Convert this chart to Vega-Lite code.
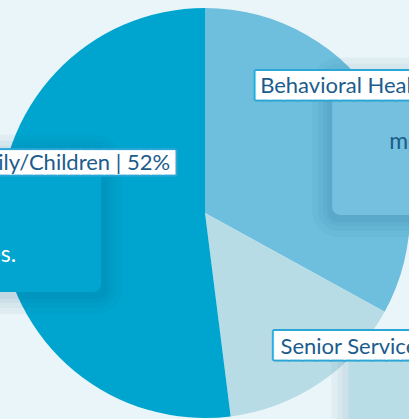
{
  "$schema": "https://vega.github.io/schema/vega-lite/v6.json",
  "width": 410,
  "height": 412,
  "autosize": {"type": "none"},
  "padding": {"left": 0, "top": 7, "right": 0, "bottom": 0},
  "background": "#E9F5F8",
  "view": {"stroke": null},
  "data": {
    "values": [
      {"cat": "Behavioral Health", "value": 33, "order": 1, "label": "Behavioral Health | 33%"},
      {"cat": "Senior Services", "value": 15, "order": 2, "label": "Senior Services | 15%"},
      {"cat": "Family/Children", "value": 52, "order": 3, "label": "Family/Children | 52%"}
    ]
  },
  "encoding": {
    "theta": {"field": "value", "type": "quantitative", "stack": true},
    "order": {"field": "order", "type": "quantitative"}
  },
  "layer": [
    {
      "mark": {"type": "arc"},
      "encoding": {
        "color": {
          "field": "cat", "type": "nominal", "legend": null,
          "scale": {"domain": ["Behavioral Health", "Senior Services", "Family/Children"], "range": ["#6EBEDD", "#B8DCE6", "#00A5CF"]}
        }
      }
    },
    {
      "mark": {"type": "text", "font": "DejaVu Sans Mono", "fontSize": 107, "align": "left", "baseline": "alphabetic", "radius": 236, "dx": -69, "dy": 91, "fill": "#06527E", "stroke": "#06527E", "strokeWidth": 52, "strokeJoin": "round", "opacity": 0.04},
      "encoding": {"text": {"condition": {"test": "datum.cat == 'Behavioral Health'", "value": "██"}, "value": ""}}
    },
    {
      "mark": {"type": "text", "font": "DejaVu Sans Mono", "fontSize": 107, "align": "left", "baseline": "alphabetic", "radius": 236, "dx": -69, "dy": 91, "fill": "#06527E", "stroke": "#06527E", "strokeWidth": 40, "strokeJoin": "round", "opacity": 0.04},
      "encoding": {"text": {"condition": {"test": "datum.cat == 'Behavioral Health'", "value": "██"}, "value": ""}}
    },
    {
      "mark": {"type": "text", "font": "DejaVu Sans Mono", "fontSize": 107, "align": "left", "baseline": "alphabetic", "radius": 236, "dx": -69, "dy": 91, "fill": "#06527E", "stroke": "#06527E", "strokeWidth": 30, "strokeJoin": "round", "opacity": 0.04},
      "encoding": {"text": {"condition": {"test": "datum.cat == 'Behavioral Health'", "value": "██"}, "value": ""}}
    },
    {
      "mark": {"type": "text", "font": "DejaVu Sans Mono", "fontSize": 107, "align": "left", "baseline": "alphabetic", "radius": 236, "dx": -69, "dy": 91, "fill": "#06527E", "stroke": "#06527E", "strokeWidth": 22, "strokeJoin": "round", "opacity": 0.05},
      "encoding": {"text": {"condition": {"test": "datum.cat == 'Behavioral Health'", "value": "██"}, "value": ""}}
    },
    {
      "mark": {"type": "text", "font": "DejaVu Sans Mono", "fontSize": 107, "align": "left", "baseline": "alphabetic", "radius": 170, "dx": 54, "dy": 99, "fill": "#06527E", "stroke": "#06527E", "strokeWidth": 44, "strokeJoin": "round", "opacity": 0.035},
      "encoding": {"text": {"condition": {"test": "datum.cat == 'Senior Services'", "value": "██"}, "value": ""}}
    },
    {
      "mark": {"type": "text", "font": "DejaVu Sans Mono", "fontSize": 107, "align": "left", "baseline": "alphabetic", "radius": 170, "dx": 54, "dy": 99, "fill": "#06527E", "stroke": "#06527E", "strokeWidth": 32, "strokeJoin": "round", "opacity": 0.035},
      "encoding": {"text": {"condition": {"test": "datum.cat == 'Senior Services'", "value": "██"}, "value": ""}}
    },
    {
      "mark": {"type": "text", "font": "DejaVu Sans Mono", "fontSize": 107, "align": "left", "baseline": "alphabetic", "radius": 170, "dx": 54, "dy": 99, "fill": "#06527E", "stroke": "#06527E", "strokeWidth": 22, "strokeJoin": "round", "opacity": 0.04},
      "encoding": {"text": {"condition": {"test": "datum.cat == 'Senior Services'", "value": "██"}, "value": ""}}
    },
    {
      "mark": {"type": "text", "font": "DejaVu Sans Mono", "fontSize": 107, "align": "right", "baseline": "alphabetic", "radius": 34, "dx": -76, "dy": 46, "fill": "#06527E", "stroke": "#06527E", "strokeWidth": 52, "strokeJoin": "round", "opacity": 0.04},
      "encoding": {"text": {"condition": {"test": "datum.cat == 'Family/Children'", "value": "██"}, "value": ""}}
    },
    {
      "mark": {"type": "text", "font": "DejaVu Sans Mono", "fontSize": 107, "align": "right", "baseline": "alphabetic", "radius": 34, "dx": -76, "dy": 46, "fill": "#06527E", "stroke": "#06527E", "strokeWidth": 40, "strokeJoin": "round", "opacity": 0.04},
      "encoding": {"text": {"condition": {"test": "datum.cat == 'Family/Children'", "value": "██"}, "value": ""}}
    },
    {
      "mark": {"type": "text", "font": "DejaVu Sans Mono", "fontSize": 107, "align": "right", "baseline": "alphabetic", "radius": 34, "dx": -76, "dy": 46, "fill": "#06527E", "stroke": "#06527E", "strokeWidth": 30, "strokeJoin": "round", "opacity": 0.04},
      "encoding": {"text": {"condition": {"test": "datum.cat == 'Family/Children'", "value": "██"}, "value": ""}}
    },
    {
      "mark": {"type": "text", "font": "DejaVu Sans Mono", "fontSize": 107, "align": "right", "baseline": "alphabetic", "radius": 34, "dx": -76, "dy": 46, "fill": "#06527E", "stroke": "#06527E", "strokeWidth": 22, "strokeJoin": "round", "opacity": 0.05},
      "encoding": {"text": {"condition": {"test": "datum.cat == 'Family/Children'", "value": "██"}, "value": ""}}
    },
    {
      "mark": {"type": "text", "font": "DejaVu Sans Mono", "fontSize": 107, "align": "left", "baseline": "alphabetic", "radius": 236, "dx": -67, "dy": 87, "fill": "#74C0DE", "stroke": "#74C0DE", "strokeWidth": 16, "strokeJoin": "round"},
      "encoding": {"text": {"condition": {"test": "datum.cat == 'Behavioral Health'", "value": "██"}, "value": ""}}
    },
    {
      "mark": {"type": "text", "font": "DejaVu Sans Mono", "fontSize": 107, "align": "left", "baseline": "alphabetic", "radius": 170, "dx": 57, "dy": 96, "fill": "#B9DDE6", "stroke": "#B9DDE6", "strokeWidth": 16, "strokeJoin": "round"},
      "encoding": {"text": {"condition": {"test": "datum.cat == 'Senior Services'", "value": "██"}, "value": ""}}
    },
    {
      "mark": {"type": "text", "font": "DejaVu Sans Mono", "fontSize": 107, "align": "right", "baseline": "alphabetic", "radius": 34, "dx": -79, "dy": 42, "fill": "#01A5CF", "stroke": "#01A5CF", "strokeWidth": 16, "strokeJoin": "round"},
      "encoding": {"text": {"condition": {"test": "datum.cat == 'Family/Children'", "value": "██"}, "value": ""}}
    },
    {
      "mark": {"type": "text", "font": "Lato", "fontSize": 23, "align": "left", "baseline": "alphabetic", "radius": 236, "dx": -19, "dy": 56, "fill": "#1C5C8C"},
      "encoding": {"text": {"condition": {"test": "datum.cat == 'Behavioral Health'", "value": "mental health"}, "value": ""}}
    },
    {
      "mark": {"type": "text", "font": "Lato", "fontSize": 23, "align": "right", "baseline": "alphabetic", "radius": 34, "dx": -155, "dy": 47, "fill": "#FFFFFF"},
      "encoding": {"text": {"condition": {"test": "datum.cat == 'Family/Children'", "value": "services."}, "value": ""}}
    },
    {
      "mark": {"type": "text", "font": "DejaVu Sans Mono", "fontSize": 23.2, "align": "left", "baseline": "alphabetic", "radius": 236, "dx": -152, "dy": 0, "fill": "#2BA7D7", "stroke": "#2BA7D7", "strokeWidth": 5, "strokeJoin": "round"},
      "encoding": {"text": {"condition": {"test": "datum.cat == 'Behavioral Health'", "value": "████████████"}, "value": ""}}
    },
    {
      "mark": {"type": "text", "font": "DejaVu Sans Mono", "fontSize": 23.2, "align": "left", "baseline": "alphabetic", "radius": 170, "dx": -26, "dy": -1, "fill": "#2BA7D7", "stroke": "#2BA7D7", "strokeWidth": 5, "strokeJoin": "round"},
      "encoding": {"text": {"condition": {"test": "datum.cat == 'Senior Services'", "value": "███████████"}, "value": ""}}
    },
    {
      "mark": {"type": "text", "font": "DejaVu Sans Mono", "fontSize": 19.5, "align": "right", "baseline": "alphabetic", "radius": 34, "dx": 3.4, "dy": -45.7, "fill": "#2BA7D7", "stroke": "#2BA7D7", "strokeWidth": 5, "strokeJoin": "round"},
      "encoding": {"text": {"condition": {"test": "datum.cat == 'Family/Children'", "value": "████████████████"}, "value": ""}}
    },
    {
      "mark": {"type": "text", "font": "DejaVu Sans Mono", "fontSize": 23.2, "align": "left", "baseline": "alphabetic", "radius": 236, "dx": -152, "dy": 0, "fill": "#FFFFFF", "stroke": "#FFFFFF", "strokeWidth": 1},
      "encoding": {"text": {"condition": {"test": "datum.cat == 'Behavioral Health'", "value": "████████████"}, "value": ""}}
    },
    {
      "mark": {"type": "text", "font": "DejaVu Sans Mono", "fontSize": 23.2, "align": "left", "baseline": "alphabetic", "radius": 170, "dx": -26, "dy": -1, "fill": "#FFFFFF", "stroke": "#FFFFFF", "strokeWidth": 1},
      "encoding": {"text": {"condition": {"test": "datum.cat == 'Senior Services'", "value": "███████████"}, "value": ""}}
    },
    {
      "mark": {"type": "text", "font": "DejaVu Sans Mono", "fontSize": 19.5, "align": "right", "baseline": "alphabetic", "radius": 34, "dx": 3.4, "dy": -45.7, "fill": "#FFFFFF", "stroke": "#FFFFFF", "strokeWidth": 1},
      "encoding": {"text": {"condition": {"test": "datum.cat == 'Family/Children'", "value": "████████████████"}, "value": ""}}
    },
    {
      "mark": {"type": "text", "font": "Lato", "fontSize": 22, "align": "left", "baseline": "alphabetic", "radius": 236, "dx": -148, "dy": 0, "fill": "#1C5C8C"},
      "encoding": {"text": {"condition": {"test": "datum.cat == 'Behavioral Health'", "field": "label"}, "value": ""}}
    },
    {
      "mark": {"type": "text", "font": "Lato", "fontSize": 22, "align": "left", "baseline": "alphabetic", "radius": 170, "dx": -20, "dy": 0, "fill": "#1C5C8C"},
      "encoding": {"text": {"condition": {"test": "datum.cat == 'Senior Services'", "field": "label"}, "value": ""}}
    },
    {
      "mark": {"type": "text", "font": "Lato", "fontSize": 22, "align": "right", "baseline": "alphabetic", "radius": 34, "dx": -1, "dy": -45, "fill": "#1C5C8C"},
      "encoding": {"text": {"condition": {"test": "datum.cat == 'Family/Children'", "field": "label"}, "value": ""}}
    }
  ]
}
